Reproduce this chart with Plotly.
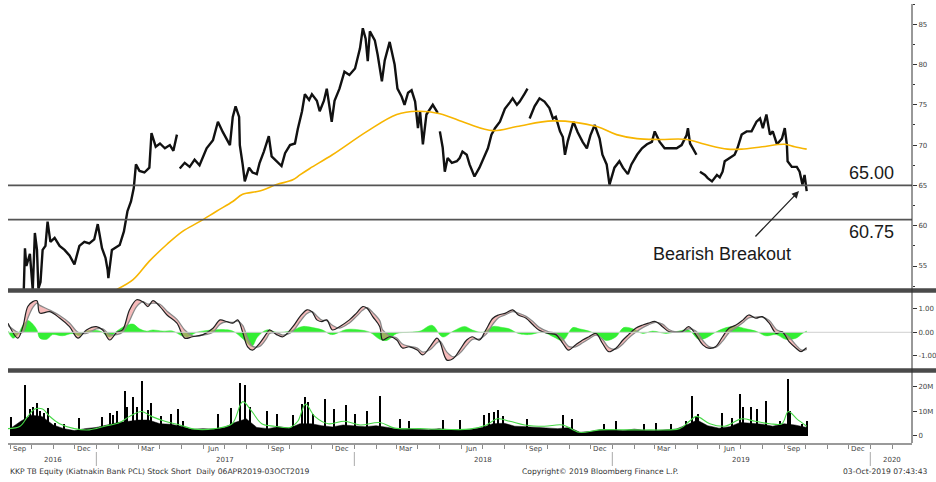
import plotly.graph_objects as go

# ---------------- DATA ----------------
price_dates = [
 "2016-08-29","2016-09-15","2016-09-20","2016-09-22","2016-09-24","2016-09-29","2016-10-03","2016-10-06","2016-10-09","2016-10-11",
 "2016-10-14","2016-10-17","2016-10-21","2016-10-24","2016-10-28","2016-11-03","2016-11-10","2016-11-17","2016-11-24","2016-12-01",
 "2016-12-08","2016-12-15","2016-12-22","2016-12-29","2017-01-03","2017-01-09","2017-01-14","2017-01-17","2017-01-18","2017-01-23",
 "2017-01-28","2017-02-03","2017-02-09","2017-02-14","2017-02-19","2017-02-23","2017-02-26","2017-03-03","2017-03-10","2017-03-17",
 "2017-03-20","2017-03-26","2017-04-01","2017-04-08","2017-04-15","2017-04-20","2017-04-25","2017-04-27","2017-04-29","2017-05-06",
 "2017-05-13","2017-05-20","2017-05-27","2017-06-06","2017-06-15","2017-06-22","2017-06-29","2017-07-09","2017-07-13","2017-07-17",
 "2017-07-22","2017-07-23","2017-07-27","2017-07-30","2017-08-05","2017-08-10","2017-08-16","2017-08-20","2017-08-26","2017-08-30",
 "2017-09-02","2017-09-06","2017-09-13","2017-09-20","2017-09-25","2017-10-02","2017-10-09","2017-10-13","2017-10-19","2017-10-23",
 "2017-10-29","2017-11-02","2017-11-09","2017-11-13","2017-11-19","2017-11-23","2017-11-30","2017-12-04","2017-12-11","2017-12-18",
 "2017-12-25","2018-01-02","2018-01-09","2018-01-13","2018-01-17","2018-01-20","2018-01-23","2018-01-30","2018-02-03","2018-02-09",
 "2018-02-13","2018-02-20","2018-02-27","2018-03-03","2018-03-09","2018-03-13","2018-03-18","2018-03-23","2018-03-28","2018-04-01",
 "2018-04-04","2018-04-08","2018-04-13","2018-04-18","2018-04-22","2018-04-29","2018-04-30","2018-05-02","2018-05-06","2018-05-09",
 "2018-05-13","2018-05-19","2018-05-26","2018-05-30","2018-06-03","2018-06-09","2018-06-13","2018-06-20","2018-06-27","2018-07-05",
 "2018-07-09","2018-07-14","2018-07-19","2018-07-26","2018-08-02","2018-08-09","2018-08-13","2018-08-19","2018-08-23","2018-08-30",
 "2018-09-03","2018-09-04","2018-09-06","2018-09-13","2018-09-20","2018-09-27","2018-10-04","2018-10-09","2018-10-13","2018-10-19",
 "2018-10-23","2018-10-26","2018-10-30","2018-11-03","2018-11-07","2018-11-13","2018-11-20","2018-11-26","2018-12-01","2018-12-07",
 "2018-12-14","2018-12-18","2018-12-24","2018-12-28","2019-01-04","2019-01-11","2019-01-16","2019-01-23","2019-01-28","2019-02-05",
 "2019-02-12","2019-02-19","2019-02-26","2019-03-02","2019-03-09","2019-03-16","2019-03-23","2019-04-02","2019-04-09","2019-04-16",
 "2019-04-18","2019-04-21","2019-04-25","2019-04-30","2019-05-02","2019-05-05","2019-05-12","2019-05-16","2019-05-22","2019-05-29",
 "2019-06-02","2019-06-06","2019-06-09","2019-06-16","2019-06-23","2019-06-27","2019-07-03","2019-07-10","2019-07-17","2019-07-24",
 "2019-07-29","2019-08-02","2019-08-07","2019-08-12","2019-08-16","2019-08-22","2019-08-29","2019-09-02","2019-09-05","2019-09-06",
 "2019-09-12","2019-09-19","2019-09-23","2019-09-27","2019-09-30","2019-10-03"]
price_close = [
 50.5,50.8,51.0,57.2,55.0,56.5,52.0,59.1,57.0,52.2,
 53.0,57.0,57.5,60.5,58.0,58.5,57.5,57.0,56.3,55.2,
 57.5,58.0,57.8,58.3,60.2,57.2,56.0,54.5,53.5,57.0,
 57.3,57.6,59.3,61.8,63.0,64.7,67.6,66.8,66.6,67.2,
 71.5,69.8,70.2,69.6,70.0,69.3,71.3,None,67.1,67.8,
 67.3,68.2,67.5,69.6,70.6,72.9,71.6,70.0,73.5,74.8,
 73.5,70.0,67.6,65.5,67.2,66.6,66.4,67.8,69.2,70.4,
 71.1,68.6,68.0,67.4,69.0,70.0,70.2,72.0,74.2,76.3,
 75.6,76.3,75.5,74.2,75.5,77.0,72.9,75.5,77.0,79.1,
 78.7,79.5,82.0,84.5,83.2,80.4,84.1,83.0,81.2,77.9,
 80.5,82.8,80.0,77.0,76.0,75.0,76.5,76.8,75.4,72.1,
 74.2,70.1,73.8,74.4,75.0,74.0,None,71.7,69.7,66.7,
 68.4,67.8,68.0,68.4,69.2,68.8,67.6,66.1,67.2,68.8,
 69.6,71.3,72.1,72.9,74.5,75.3,75.8,75.0,75.4,76.4,
 77.0,None,73.3,74.8,75.8,75.4,74.6,73.3,73.5,71.7,
 71.0,68.8,70.5,71.7,72.9,71.6,70.4,69.6,71.2,72.5,
 70.8,68.8,67.6,65.1,67.2,68.0,67.2,66.4,67.6,68.8,
 69.6,70.1,70.4,71.7,70.4,69.6,69.6,69.6,70.0,71.2,
 72.1,70.2,69.6,68.8,None,66.7,66.3,65.9,65.5,66.3,
 66.0,66.7,68.0,68.4,68.8,69.6,71.3,71.7,71.7,72.9,
 73.3,72.1,73.8,71.3,71.7,70.1,70.8,72.1,70.0,68.0,
 67.3,67.3,66.7,65.1,66.3,64.3]

ma200_dates = ["2017-01-30","2017-02-22","2017-03-17","2017-04-11","2017-05-03","2017-05-27","2017-06-20","2017-07-13",
 "2017-07-27","2017-08-20","2017-09-13","2017-10-06","2017-10-16","2017-10-30","2017-12-01","2018-01-19","2018-03-02",
 "2018-03-31","2018-05-02","2018-06-09","2018-07-16","2018-08-19","2018-10-09","2018-12-10","2019-01-07","2019-02-05",
 "2019-03-09","2019-04-16","2019-05-12","2019-06-13","2019-07-03","2019-08-01","2019-09-02","2019-09-16","2019-10-03"]
ma200_vals = [52.1,53.3,55.6,57.7,59.3,60.5,61.8,63.0,63.9,64.3,65.1,65.7,66.3,67.1,68.8,71.7,73.8,
 74.2,73.9,72.7,71.8,72.3,73.0,72.3,71.3,70.8,70.7,70.7,70.1,69.5,69.5,69.8,70.1,69.8,69.5]

level_values = [65.00, 60.75]

macd_dates = ["2016-08-29","2016-09-12","2016-09-19","2016-09-26","2016-10-03","2016-10-09","2016-10-13","2016-10-27",
 "2016-11-10","2016-11-24","2016-12-06","2016-12-18","2017-01-01","2017-01-10","2017-01-20","2017-01-30","2017-02-07",
 "2017-02-17","2017-02-27","2017-03-08","2017-03-15","2017-03-22","2017-04-01","2017-04-11","2017-04-25","2017-05-06",
 "2017-05-17","2017-06-01","2017-06-15","2017-06-25","2017-07-04","2017-07-13","2017-07-20","2017-07-27","2017-08-03",
 "2017-08-10","2017-08-20","2017-08-30","2017-09-03","2017-09-13","2017-09-22","2017-10-06","2017-10-16","2017-10-26",
 "2017-11-02","2017-11-09","2017-11-16","2017-11-23","2017-12-01","2017-12-11","2017-12-25","2018-01-04","2018-01-13",
 "2018-01-19","2018-01-27","2018-02-06","2018-02-10","2018-02-20","2018-03-02","2018-03-10","2018-03-20","2018-03-31",
 "2018-04-08","2018-04-18","2018-04-28","2018-05-02","2018-05-12","2018-05-21","2018-05-30","2018-06-09","2018-06-17",
 "2018-06-27","2018-07-06","2018-07-16","2018-07-24","2018-08-03","2018-08-13","2018-08-21","2018-09-01","2018-09-11",
 "2018-09-19","2018-10-03","2018-10-13","2018-10-23","2018-10-31","2018-11-10","2018-11-20","2018-11-29","2018-12-09",
 "2018-12-18","2018-12-27","2019-01-06","2019-01-16","2019-01-24","2019-02-03","2019-02-13","2019-02-21","2019-03-03",
 "2019-03-13","2019-03-22","2019-04-01","2019-04-10","2019-04-19","2019-04-29","2019-05-09","2019-05-17","2019-05-27",
 "2019-06-06","2019-06-15","2019-06-25","2019-07-05","2019-07-13","2019-07-23","2019-08-01","2019-08-11","2019-08-21",
 "2019-08-29","2019-09-08","2019-09-18","2019-09-25","2019-10-02","2019-10-03"]
macd_line = [0.39,-0.25,0.24,1.10,1.31,1.35,0.82,0.88,0.61,0.24,-0.25,0.10,0.24,0.10,-0.33,0.00,0.10,
 0.96,1.39,1.30,1.10,1.35,1.10,0.74,0.39,-0.25,-0.19,-0.10,0.17,0.53,0.46,0.39,0.53,0.00,-0.62,
 -0.76,-0.47,-0.05,0.10,-0.10,-0.19,0.24,0.67,0.96,0.88,0.53,0.46,0.53,0.10,0.24,0.53,0.82,1.10,
 1.03,0.67,0.24,-0.33,-0.19,-0.33,-0.67,-0.62,-0.76,-0.97,-0.62,-0.25,-0.40,-1.19,-1.12,-0.76,-0.33,-0.19,
 -0.33,0.10,0.60,0.74,0.82,0.96,0.74,0.60,0.31,0.10,-0.05,-0.10,-0.47,-0.76,-0.54,-0.33,-0.19,-0.05,
 -0.47,-0.83,-0.68,-0.33,-0.10,0.17,0.31,0.39,0.46,0.24,0.03,0.00,0.03,0.24,-0.10,-0.54,-0.68,-0.62,
 -0.19,0.17,0.31,0.53,0.74,0.60,0.67,0.39,-0.05,0.03,-0.40,-0.68,-0.83,-0.68,-0.68]
macd_signal = [0.30,0.00,0.00,0.60,1.05,1.25,1.15,0.95,0.72,0.40,0.00,-0.05,0.15,0.15,-0.10,-0.10,0.00,
 0.50,1.10,1.30,1.20,1.25,1.20,0.90,0.55,0.10,-0.15,-0.12,0.00,0.35,0.45,0.42,0.48,0.30,-0.25,
 -0.60,-0.60,-0.25,-0.05,-0.02,-0.12,0.05,0.45,0.80,0.88,0.70,0.52,0.50,0.30,0.18,0.40,0.68,0.95,
 1.05,0.85,0.50,0.10,-0.15,-0.25,-0.50,-0.60,-0.68,-0.85,-0.75,-0.45,-0.38,-0.85,-1.05,-0.90,-0.55,-0.30,
 -0.28,-0.10,0.35,0.62,0.75,0.88,0.82,0.68,0.45,0.22,0.02,-0.05,-0.30,-0.60,-0.62,-0.45,-0.28,-0.12,
 -0.30,-0.65,-0.72,-0.50,-0.25,0.00,0.20,0.32,0.42,0.35,0.12,0.02,0.02,0.15,0.05,-0.35,-0.60,-0.65,
 -0.38,-0.02,0.20,0.42,0.62,0.65,0.65,0.50,0.12,0.00,-0.20,-0.55,-0.75,-0.74,-0.72]

hist_dates = ["2016-08-29","2016-09-05","2016-09-12","2016-09-19","2016-09-26","2016-10-03","2016-10-09","2016-10-13",
 "2016-10-23","2016-10-31","2016-11-14","2016-11-29","2016-12-08","2016-12-18","2017-01-06","2017-01-20","2017-01-30",
 "2017-02-13","2017-02-22","2017-03-03","2017-03-13","2017-03-22","2017-04-05","2017-04-19","2017-05-02","2017-05-10",
 "2017-05-23","2017-06-15","2017-06-29","2017-07-13","2017-07-30","2017-08-09","2017-08-17","2017-08-30","2017-09-13",
 "2017-10-02","2017-10-20","2017-11-03","2017-11-17","2017-11-30","2017-12-21","2018-01-09","2018-01-23","2018-02-06",
 "2018-02-16","2018-03-02","2018-03-20","2018-04-04","2018-04-21","2018-05-06","2018-05-21","2018-06-06","2018-06-17",
 "2018-07-02","2018-07-16","2018-07-30","2018-08-08","2018-08-21","2018-09-05","2018-09-25","2018-10-10","2018-10-23",
 "2018-11-06","2018-11-15","2018-11-29","2018-12-13","2018-12-23","2019-01-06","2019-01-17","2019-01-30","2019-02-13",
 "2019-02-27","2019-03-18","2019-04-05","2019-04-19","2019-05-03","2019-05-13","2019-05-27","2019-06-11","2019-06-25",
 "2019-07-09","2019-07-23","2019-08-06","2019-08-21","2019-09-03","2019-09-18","2019-09-27","2019-10-03"]
hist_vals = [0.05,-0.25,-0.10,0.30,0.50,0.35,0.10,-0.25,-0.30,-0.10,-0.15,-0.05,-0.15,0.05,0.05,-0.20,0.05,
 0.30,0.35,0.15,0.05,0.10,0.05,0.05,-0.15,-0.20,0.00,0.10,0.12,0.05,-0.35,-0.60,-0.20,0.10,0.00,
 0.05,0.25,0.20,0.10,-0.10,0.12,0.10,0.00,-0.30,-0.35,-0.05,0.00,0.05,0.30,-0.20,0.05,0.25,0.10,
 0.00,0.25,0.20,0.15,-0.05,-0.10,0.00,-0.20,-0.35,0.20,0.15,0.05,-0.15,-0.35,-0.20,0.20,0.15,-0.05,
 0.05,-0.05,0.05,0.10,-0.30,-0.25,0.00,0.20,0.25,0.15,0.05,-0.15,-0.10,-0.30,-0.25,-0.05,0.05]

vol_base_dates = ["2016-09-01","2016-09-16","2016-10-01","2016-10-16","2016-11-01","2016-11-16","2016-12-01","2016-12-16",
 "2017-01-01","2017-01-16","2017-02-01","2017-02-16","2017-03-01","2017-03-16","2017-04-01","2017-04-16","2017-05-01",
 "2017-05-16","2017-06-01","2017-06-16","2017-07-01","2017-07-16","2017-08-01","2017-08-16","2017-09-01","2017-09-16",
 "2017-10-01","2017-10-16","2017-11-01","2017-11-16","2017-12-01","2017-12-16","2018-01-01","2018-01-16","2018-02-01",
 "2018-02-16","2018-03-01","2018-03-16","2018-04-01","2018-04-16","2018-05-01","2018-05-16","2018-06-01","2018-06-16",
 "2018-07-01","2018-07-16","2018-08-01","2018-08-16","2018-09-01","2018-09-16","2018-10-01","2018-10-16","2018-11-01",
 "2018-11-16","2018-12-01","2018-12-16","2019-01-01","2019-01-16","2019-02-01","2019-02-16","2019-03-01","2019-03-16",
 "2019-04-01","2019-04-16","2019-05-01","2019-05-16","2019-06-01","2019-06-16","2019-07-01","2019-07-16","2019-08-01",
 "2019-08-16","2019-09-01","2019-09-16","2019-10-03"]
vol_base = [3,6,8.5,8,4.5,3,2.2,3,3.5,4.5,5.5,6,6.5,6.5,5,4.8,4,2.7,3,2.8,3.5,5.5,7,3.5,3,3.8,
 3.2,5,5,4.2,3.7,4.5,4,3.8,4.2,3.5,3,3,2.8,2.5,3,2.5,2.5,2.8,3.5,5,5.2,4,3.8,3.5,3.5,3,3.5,
 1.5,1.8,2.6,2.5,2.2,2.8,2.3,2.2,2.5,2.8,4.5,6.5,4.2,3.2,3.8,5.5,5.2,4.8,4,5,4.5,3.5]

vol_spike_dates = ["2016-09-03","2016-09-22","2016-09-29","2016-10-03","2016-10-09","2016-10-13","2016-10-19","2016-10-24",
 "2016-11-03","2016-11-17","2016-12-08","2017-01-09","2017-01-20","2017-01-24","2017-01-31","2017-02-10","2017-02-14",
 "2017-02-22","2017-02-27","2017-03-06","2017-03-15","2017-03-20","2017-04-03","2017-04-17","2017-04-26","2017-05-03",
 "2017-06-22","2017-07-10","2017-07-24","2017-07-31","2017-08-07","2017-08-30","2017-09-13","2017-10-06","2017-10-19",
 "2017-10-23","2017-10-27","2017-11-03","2017-11-20","2017-12-04","2017-12-21","2018-01-02","2018-01-19","2018-02-06",
 "2018-03-06","2018-03-20","2018-05-07","2018-05-30","2018-07-03","2018-07-10","2018-07-17","2018-07-24","2018-07-30",
 "2018-09-03","2018-10-23","2018-11-05","2018-12-21","2019-01-07","2019-02-15","2019-03-04","2019-03-25","2019-04-16",
 "2019-04-24","2019-04-30","2019-05-03","2019-06-05","2019-06-19","2019-07-01","2019-07-05","2019-07-17","2019-07-25",
 "2019-08-07","2019-08-26","2019-09-06","2019-09-10","2019-09-27","2019-10-03"]
vol_spikes = [7.9,21,11,12,13.3,10,9.3,11.6,5.5,5,7.5,7.9,9.3,8.5,10,18.4,12,15.9,12,22.4,10.5,13.4,8,9,11,6,
 9,11.4,21.8,21,12,10,9,8.5,13,15.8,14,9,15,11,12.6,9,10,16.3,7,6,6.5,6.5,8.6,9.4,9.7,10.6,8,
 7,8.6,7,5,6,5,5.5,5,6,16.3,8,9,9.5,7.5,17.1,11.8,12,11,14.4,6,23.2,10,5,6]

vol_ma_dates = ["2016-08-29","2016-09-15","2016-09-26","2016-10-06","2016-10-17","2016-10-27","2016-11-10","2016-12-01",
 "2016-12-22","2017-01-13","2017-02-03","2017-02-17","2017-03-06","2017-03-20","2017-04-08","2017-04-29","2017-05-20",
 "2017-06-17","2017-07-12","2017-07-27","2017-08-09","2017-08-23","2017-09-10","2017-10-02","2017-10-13","2017-10-24",
 "2017-11-06","2017-11-25","2017-12-18","2018-01-09","2018-02-06","2018-02-27","2018-04-04","2018-05-09","2018-06-13",
 "2018-07-07","2018-07-22","2018-08-09","2018-08-30","2018-09-27","2018-10-23","2018-11-15","2018-12-14","2019-01-19",
 "2019-02-23","2019-04-06","2019-04-20","2019-04-30","2019-05-19","2019-06-09","2019-07-03","2019-07-22","2019-08-12",
 "2019-08-29","2019-09-07","2019-09-19","2019-10-03"]
vol_ma = [3,4,8,11,11,8,5,3,2.5,4,5.5,8,10,8,6,4.5,2.8,3,5,14,10,5,4,3.5,6,13,8,5,6,4.5,5.5,3.2,3,2.7,2.8,
 4.5,7,6,4.5,4,4.5,1.5,2.5,2.5,2.5,3,6,8,5,4,7,6,5,5,10,7,4]

month_labels = ["Sep","Dec","Mar","Jun","Sep","Dec","Mar","Jun","Sep","Dec","Mar","Jun","Sep","Dec"]
month_label_dates = ["2016-09-15","2016-12-15","2017-03-15","2017-06-15","2017-09-15","2017-12-15","2018-03-15",
 "2018-06-15","2018-09-15","2018-12-15","2019-03-15","2019-06-15","2019-09-15","2019-12-15"]
year_labels = ["2016","2017","2018","2019","2020"]
year_label_dates = ["2016-10-31","2017-07-02","2018-07-02","2019-07-02","2020-02-01"]
year_starts = ["2017-01-01","2018-01-01","2019-01-01","2020-01-01"]

x_range = ["2016-08-29","2020-02-29"]

# ---------------- FIGURE ----------------
W, H = 936, 482
def px(x):
    return x / W
def py(y):
    return 1 - y / H

FONT = "DejaVu Sans"
AX_COL = "#444444"
fig = go.Figure()

# price panel
fig.add_trace(go.Scatter(x=price_dates, y=price_close, mode="lines", connectgaps=False,
                         line=dict(color="#111111", width=2.4), xaxis="x", yaxis="y", hoverinfo="skip"))
fig.add_trace(go.Scatter(x=ma200_dates, y=ma200_vals, mode="lines", line=dict(color="#F7B500", width=1.6, shape="spline"),
                         xaxis="x", yaxis="y", hoverinfo="skip"))

# MACD panel
fig.add_trace(go.Scatter(x=hist_dates, y=hist_vals, mode="lines", fill="tozeroy", fillcolor="#33EE33",
                         line=dict(color="#33EE33", width=0.5, shape="spline"), xaxis="x2", yaxis="y2", hoverinfo="skip"))
fig.add_trace(go.Scatter(x=macd_dates, y=macd_signal, mode="lines", line=dict(color="#8a8a8a", width=1.3, shape="spline"),
                         xaxis="x2", yaxis="y2", hoverinfo="skip"))
fig.add_trace(go.Scatter(x=macd_dates, y=macd_line, mode="lines", fill="tonexty", fillcolor="rgba(238,130,130,0.55)",
                         line=dict(color="#222222", width=1.2, shape="spline"), xaxis="x2", yaxis="y2", hoverinfo="skip"))

# volume panel
fig.add_trace(go.Scatter(x=vol_base_dates, y=vol_base, mode="lines", fill="tozeroy", fillcolor="#000000",
                         line=dict(color="#000000", width=0.5), xaxis="x3", yaxis="y3", hoverinfo="skip"))
fig.add_trace(go.Bar(x=vol_spike_dates, y=vol_spikes, width=86400000 * 1.6, marker=dict(color="#000000", line=dict(width=0)),
                     xaxis="x3", yaxis="y3", hoverinfo="skip"))
fig.add_trace(go.Scatter(x=vol_ma_dates, y=vol_ma, mode="lines", line=dict(color="#46D846", width=1.1, shape="spline"),
                         xaxis="x3", yaxis="y3", hoverinfo="skip"))

dom_x = [px(8), px(912)]
tickfont = dict(family=FONT, size=7, color=AX_COL)
common_x = dict(type="date", range=x_range, domain=dom_x, showgrid=False, zeroline=False, showticklabels=False)

shapes = []
for lv in level_values:
    shapes.append(dict(type="line", xref="paper", yref="y", x0=px(8), x1=px(912), y0=lv, y1=lv,
                       line=dict(color="#555555", width=1.6)))
shapes.append(dict(type="line", xref="paper", yref="y2", x0=px(8), x1=px(912), y0=0, y1=0,
                   line=dict(color="#cfcfcf", width=1)))
for yc in (290.5, 370.5):
    shapes.append(dict(type="rect", xref="paper", yref="paper", x0=px(8), x1=1.0, y0=py(yc + 2.2), y1=py(yc - 2.2),
                       fillcolor="#4a4a4a", line=dict(width=0), layer="above"))
shapes.append(dict(type="line", xref="paper", yref="paper", x0=px(912), x1=px(912), y0=py(443), y1=py(4),
                   line=dict(color="#333333", width=1)))
for ys in year_starts:
    shapes.append(dict(type="line", xref="x3", yref="paper", x0=ys, x1=ys, y0=py(466), y1=py(452),
                       line=dict(color="#aaaaaa", width=1)))

annotations = []
for lab, d in zip(month_labels, month_label_dates):
    annotations.append(dict(x=d, y=py(448.5), xref="x3", yref="paper", text=lab, showarrow=False,
                            font=dict(family=FONT, size=7, color=AX_COL), xanchor="center", yanchor="middle"))
for lab, d in zip(year_labels, year_label_dates):
    annotations.append(dict(x=d, y=py(459.5), xref="x3", yref="paper", text=lab, showarrow=False,
                            font=dict(family=FONT, size=7, color=AX_COL), xanchor="center", yanchor="middle"))

big = dict(family="Liberation Sans", size=18, color="#1a1a1a")
annotations.append(dict(x=px(871), y=level_values[0], xref="paper", yref="y", text="65.00", showarrow=False,
                        font=big, xanchor="center", yanchor="bottom", yshift=0))
annotations.append(dict(x=px(871), y=level_values[1], xref="paper", yref="y", text="60.75", showarrow=False,
                        font=big, xanchor="center", yanchor="top", yshift=0))
annotations.append(dict(x=px(722), y=py(254), xref="paper", yref="paper", text="Bearish Breakout", showarrow=False,
                        font=big, xanchor="center", yanchor="middle"))
annotations.append(dict(x=px(799), y=py(191), xref="paper", yref="paper", text="", showarrow=True,
                        ax=-45, ay=47, arrowhead=2, arrowsize=1.1, arrowwidth=1.3, arrowcolor="#222222"))

small = dict(family=FONT, size=7.6, color="#333333")
annotations.append(dict(x=px(8), y=py(471), xref="paper", yref="paper", showarrow=False, xanchor="left", yanchor="middle",
                        text="KKP TB Equity (Kiatnakin Bank PCL) Stock Short  Daily 06APR2019-03OCT2019", font=small))
annotations.append(dict(x=px(600), y=py(471), xref="paper", yref="paper", showarrow=False, xanchor="center", yanchor="middle",
                        text="Copyright© 2019 Bloomberg Finance L.P.", font=small))
annotations.append(dict(x=px(841), y=py(471), xref="paper", yref="paper", showarrow=False, xanchor="left", yanchor="middle",
                        text="03-Oct-2019 07:43:43", font=small))

fig.update_layout(
    width=W, height=H, margin=dict(l=0, r=0, t=0, b=0), paper_bgcolor="white", plot_bgcolor="white",
    showlegend=False, bargap=0,
    xaxis=dict(**common_x, anchor="y"),
    xaxis2=dict(**common_x, anchor="y2", matches="x"),
    xaxis3=dict(**common_x, anchor="y3", matches="x", showline=True, linecolor="#9a9a9a", linewidth=2,
                ticks="outside", ticklen=4, tickcolor="#8a8a8a", tickwidth=1, dtick="M1", tick0="2016-09-01"),
    yaxis=dict(domain=[py(291), py(0)], range=[51.9, 88.0], side="right", anchor="x", showgrid=False, zeroline=False,
               tickvals=[55, 60, 65, 70, 75, 80, 85], ticks="outside", ticklen=4, tickcolor="#333", tickfont=tickfont,
               minor=dict(tickvals=[52.5, 57.5, 62.5, 67.5, 72.5, 77.5, 82.5, 87.5], ticks="outside", ticklen=2, tickcolor="#333")),
    yaxis2=dict(domain=[py(369), py(293)], range=[-1.57, 1.68], side="right", anchor="x2", showgrid=False, zeroline=False,
                tickvals=[-1, 0, 1], ticktext=["-1.00", "0.00", "1.00"], ticks="outside", ticklen=4, tickcolor="#333",
                tickfont=tickfont),
    yaxis3=dict(domain=[py(443), py(373)], range=[-2.86, 25.7], side="right", anchor="x3", showgrid=False, zeroline=False,
                tickvals=[0, 10, 20], ticktext=["0", "10M", "20M"], ticks="outside", ticklen=4, tickcolor="#333",
                tickfont=tickfont),
    shapes=shapes, annotations=annotations,
)

fig.write_html("out.html", config={"displayModeBar": False},
               post_script="document.body.style.margin='0px';document.body.style.overflow='hidden';")
